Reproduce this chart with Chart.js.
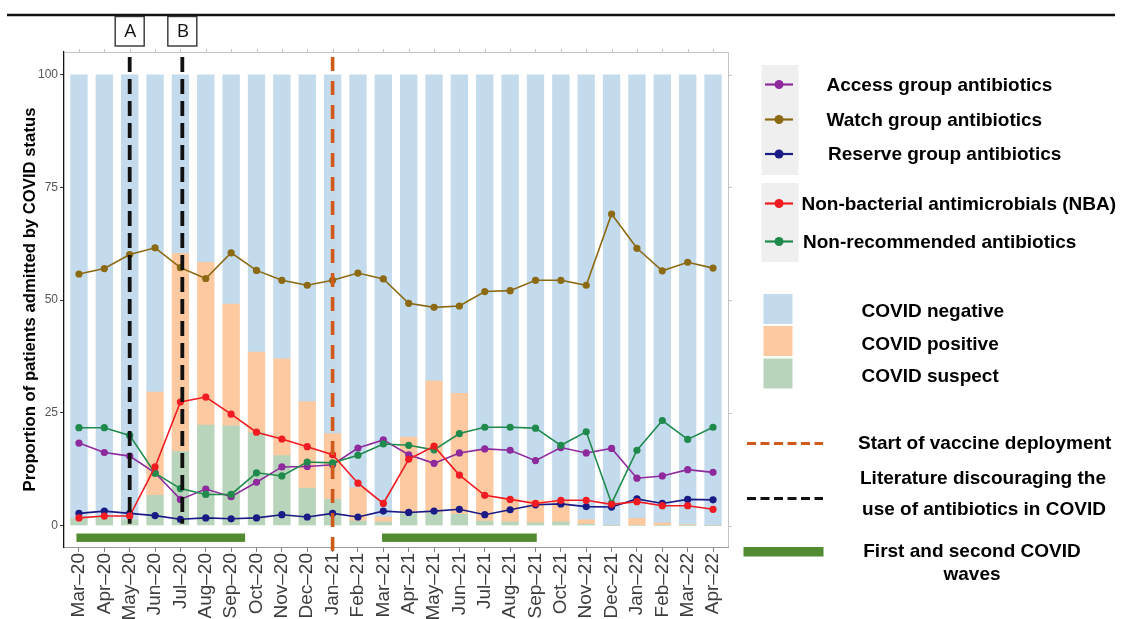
<!DOCTYPE html>
<html>
<head>
<meta charset="utf-8">
<script src="https://cdn.jsdelivr.net/npm/chart.js@4.4.1/dist/chart.umd.min.js"></script>
<style>
  html, body { margin: 0; padding: 0; background: #fff; overflow: hidden; }
  canvas { display: block; }
</style>
</head>
<body>
<canvas id="c" width="1121" height="619"></canvas>
<script>
// Months on the x axis
const months = ['Mar–20','Apr–20','May–20','Jun–20','Jul–20','Aug–20','Sep–20','Oct–20','Nov–20','Dec–20',
  'Jan–21','Feb–21','Mar–21','Apr–21','May–21','Jun–21','Jul–21','Aug–21','Sep–21','Oct–21','Nov–21','Dec–21',
  'Jan–22','Feb–22','Mar–22','Apr–22'];

// Share of admitted patients by COVID status (%), stacked to 100
const covidSuspect  = [1.5,1.8,1.2,6.7,16.4,22.3,22.1,20.6,15.5,8.3,5.8,1.0,0.8,2.7,2.8,2.5,1.0,0.8,0.6,0.8,0.3,0,0,0,0,0];
const covidPositive = [0,0,0,22.9,44.0,36.1,27.0,17.9,21.5,19.2,14.6,7.4,1.1,16.9,29.3,26.8,15.7,5.2,5.0,4.8,1.0,0,1.6,0.6,0.2,0];
const covidNegative = [98.5,98.2,98.8,70.4,39.6,41.6,50.9,61.5,63.0,72.5,79.6,91.6,98.1,80.4,67.9,70.7,83.3,94.0,94.4,94.4,98.7,100,98.4,99.4,99.8,100];

// Antimicrobial prescribing (%)
const accessGroup  = [18.3,16.2,15.4,11.7,5.8,8.1,6.4,9.6,13.0,13.1,13.5,17.2,19.0,15.7,13.8,16.1,17.0,16.7,14.4,17.3,16.1,17.1,10.5,11.0,12.4,11.8];
const watchGroup   = [55.8,57.0,60.1,61.6,57.2,54.8,60.5,56.6,54.4,53.3,54.4,56.0,54.7,49.3,48.4,48.7,51.9,52.1,54.4,54.4,53.3,69.1,61.5,56.5,58.4,57.1];
const reserveGroup = [2.7,3.2,2.7,2.2,1.4,1.7,1.5,1.7,2.4,1.9,2.7,1.9,3.2,2.9,3.2,3.6,2.4,3.5,4.6,4.8,4.2,4.1,5.9,4.9,5.8,5.7];
const nonBacterial = [1.7,2.1,2.1,13.0,27.4,28.5,24.7,20.7,19.2,17.5,15.7,9.4,4.9,14.7,17.6,11.2,6.7,5.8,4.9,5.6,5.6,4.7,5.3,4.4,4.4,3.6];
const nonRecommended = [21.7,21.7,20.0,11.6,8.2,6.9,6.9,11.7,11.0,14.1,13.9,15.6,18.1,17.8,16.8,20.4,21.8,21.8,21.6,17.8,20.8,4.9,16.7,23.3,19.1,21.8];

// y-axis tick labels
const yTicks = [0, 25, 50, 75, 100];

// Events (positions in month units along the x axis)
const literatureEvents = [{ label: 'A', at: 2 }, { label: 'B', at: 4.075 }];
const vaccineStart = 10;
const covidWaves = [[-0.1, 6.55], [11.95, 18.05]];
const waveLevel = -2.7;

const COL = {
  negative: '#c3dbec', positive: '#fcc9a1', suspect: '#b8d5bb',
  access: '#8e2a9c', watch: '#8c6a14', reserve: '#1b1b86', nba: '#f01c22', nonrec: '#1f8a4c',
  wave: '#528b31', vaccine: '#cf5a1c', literature: '#111111'
};
const FONT = '"Liberation Sans", Arial, Helvetica, sans-serif';

const pts = arr => arr.map((v, i) => ({ x: i, y: v }));

function barSet(label, arr, color, order) {
  return { type: 'bar', label, data: pts(arr), backgroundColor: color, stack: 'covid',
    barThickness: 16.7, borderWidth: 0, order };
}
function lineSet(label, arr, color, order) {
  return { type: 'line', label, data: pts(arr), borderColor: color, backgroundColor: color,
    borderWidth: 1.6, pointRadius: 3.6, pointBorderWidth: 0, pointBackgroundColor: color,
    tension: 0, order };
}

const decor = {
  id: 'decor',
  afterDatasetsDraw(chart) {
    const { ctx, chartArea: a, scales: { x, y } } = chart;
    ctx.save();
    // COVID waves
    ctx.fillStyle = COL.wave;
    covidWaves.forEach(([s, e]) => {
      const x0 = x.getPixelForValue(s), x1 = x.getPixelForValue(e);
      const yc = y.getPixelForValue(waveLevel);
      ctx.fillRect(x0, yc - 4.2, x1 - x0, 8.4);
    });
    // Literature lines
    ctx.lineWidth = 3.8;
    ctx.strokeStyle = COL.literature;
    ctx.setLineDash([15, 7]);
    literatureEvents.forEach(ev => {
      const px = x.getPixelForValue(ev.at);
      ctx.beginPath();
      ctx.moveTo(px, a.top + 5);
      ctx.lineTo(px, y.getPixelForValue(0.4));
      ctx.stroke();
    });
    // Vaccine deployment
    ctx.strokeStyle = COL.vaccine;
    ctx.lineWidth = 3.6;
    ctx.setLineDash([14, 10]);
    const vx = x.getPixelForValue(vaccineStart);
    ctx.beginPath();
    ctx.moveTo(vx, a.top + 5);
    ctx.lineTo(vx, a.bottom + 10);
    ctx.stroke();
    ctx.restore();
  },
  afterDraw(chart) {
    const { ctx, chartArea: a, scales: { x, y } } = chart;
    ctx.save();
    // panel frame (top & right) with outward ticks
    ctx.strokeStyle = '#c4c4c4';
    ctx.lineWidth = 1;
    ctx.beginPath();
    ctx.moveTo(a.left, a.top + 0.5); ctx.lineTo(a.right + 0.5, a.top + 0.5);
    ctx.lineTo(a.right + 0.5, a.bottom);
    months.forEach((m, i) => {
      const px = Math.round(x.getPixelForValue(i)) + 0.5;
      ctx.moveTo(px, a.top); ctx.lineTo(px, a.top - 3);
    });
    yTicks.forEach(v => {
      const py = Math.round(y.getPixelForValue(v)) + 0.5;
      ctx.moveTo(a.right, py); ctx.lineTo(a.right + 4, py);
    });
    ctx.stroke();

    // top rule
    ctx.strokeStyle = '#111';
    ctx.lineWidth = 2.4;
    ctx.beginPath();
    ctx.moveTo(7, 15); ctx.lineTo(1115, 15);
    ctx.stroke();

    // A / B boxes
    ctx.lineWidth = 1.4;
    ctx.strokeStyle = '#333';
    ctx.font = '19px "Open Sans", "Noto Sans", sans-serif';
    ctx.textAlign = 'center';
    ctx.textBaseline = 'middle';
    literatureEvents.forEach(ev => {
      const px = x.getPixelForValue(ev.at);
      ctx.fillStyle = '#fff';
      ctx.fillRect(px - 14.5, 16.5, 29, 29.5);
      ctx.strokeRect(px - 14.5, 16.5, 29, 29.5);
      ctx.fillStyle = '#111';
      ctx.fillText(ev.label, px + 0.5, 32);
    });

    // Legend
    ctx.textAlign = 'left';
    ctx.textBaseline = 'middle';
    ctx.fillStyle = '#efefef';
    ctx.fillRect(761.5, 65, 37, 110);
    ctx.fillRect(761.5, 183, 37, 79);

    const lineKeys = [
      { c: COL.access, y: 84.5, tx: 826.5, t: 'Access group antibiotics' },
      { c: COL.watch, y: 119.5, tx: 826.5, t: 'Watch group antibiotics' },
      { c: COL.reserve, y: 154, tx: 828, t: 'Reserve group antibiotics' },
      { c: COL.nba, y: 203.5, tx: 801.5, t: 'Non-bacterial antimicrobials (NBA)' },
      { c: COL.nonrec, y: 241.5, tx: 803, t: 'Non-recommended antibiotics' }
    ];
    ctx.font = 'bold 19px ' + FONT;
    lineKeys.forEach(k => {
      ctx.strokeStyle = k.c; ctx.fillStyle = k.c; ctx.lineWidth = 2.2;
      ctx.beginPath(); ctx.moveTo(765, k.y); ctx.lineTo(793, k.y); ctx.stroke();
      ctx.beginPath(); ctx.arc(779, k.y, 4.5, 0, Math.PI * 2); ctx.fill();
      ctx.fillStyle = '#000';
      ctx.fillText(k.t, k.tx, k.y + 1);
    });

    const boxKeys = [
      { c: COL.negative, y0: 294, y1: 324, ty: 311.5, t: 'COVID negative' },
      { c: COL.positive, y0: 326, y1: 356, ty: 345, t: 'COVID positive' },
      { c: COL.suspect, y0: 358.5, y1: 388.5, ty: 376.5, t: 'COVID suspect' }
    ];
    boxKeys.forEach(k => {
      ctx.fillStyle = k.c;
      ctx.fillRect(763.5, k.y0, 29, k.y1 - k.y0);
      ctx.fillStyle = '#000';
      ctx.fillText(k.t, 861.5, k.ty);
    });

    // event keys
    ctx.lineWidth = 3;
    ctx.strokeStyle = COL.vaccine;
    ctx.setLineDash([9, 4.5]);
    ctx.beginPath(); ctx.moveTo(747, 443.5); ctx.lineTo(823, 443.5); ctx.stroke();
    ctx.strokeStyle = '#111';
    ctx.beginPath(); ctx.moveTo(747, 498.5); ctx.lineTo(823, 498.5); ctx.stroke();
    ctx.setLineDash([]);
    ctx.fillStyle = COL.wave;
    ctx.fillRect(743.5, 547, 80, 9.5);

    ctx.fillStyle = '#000';
    ctx.fillText('Start of vaccine deployment', 858, 443.5);
    ctx.textAlign = 'center';
    ctx.fillText('Literature discouraging the', 983, 478.5);
    ctx.fillText('use of antibiotics in COVID', 984, 510);
    ctx.fillText('First and second COVID', 972, 551.5);
    ctx.fillText('waves', 972, 575);
    ctx.restore();
  }
};

new Chart(document.getElementById('c'), {
  type: 'bar',
  data: {
    datasets: [
      lineSet('Non-bacterial antimicrobials (NBA)', nonBacterial, COL.nba, 1),
      lineSet('Reserve group antibiotics', reserveGroup, COL.reserve, 2),
      lineSet('Non-recommended antibiotics', nonRecommended, COL.nonrec, 3),
      lineSet('Access group antibiotics', accessGroup, COL.access, 4),
      lineSet('Watch group antibiotics', watchGroup, COL.watch, 5),
      barSet('COVID suspect', covidSuspect, COL.suspect, 10),
      barSet('COVID positive', covidPositive, COL.positive, 11),
      barSet('COVID negative', covidNegative, COL.negative, 12)
    ]
  },
  options: {
    responsive: false,
    devicePixelRatio: 1,
    animation: false,
    layout: { padding: { left: 0, right: 393, top: 52, bottom: 0 } },
    plugins: { legend: { display: false }, tooltip: { enabled: false } },
    scales: {
      x: {
        type: 'linear',
        min: -0.59, max: 25.59,
        offset: false,
        grid: { offset: false, drawOnChartArea: false, drawTicks: true, tickLength: 5, color: '#808080' },
        border: { display: true, color: '#9a9a9a', width: 1 },
        afterBuildTicks: s => { s.ticks = months.map((m, i) => ({ value: i })); },
        afterFit: s => { s.height = 72; s.paddingLeft = 0; s.paddingRight = 0; },
        ticks: {
          autoSkip: false, minRotation: 90, maxRotation: 90, padding: 1,
          color: '#3d3d3d', font: { family: FONT, size: 19 },
          callback: v => months[v]
        }
      },
      y: {
        min: -4.76, max: 105.04,
        grid: { drawOnChartArea: false, drawTicks: true, tickLength: 4, color: '#333' },
        border: { display: true, color: '#111', width: 1.3 },
        afterBuildTicks: s => { s.ticks = yTicks.map(v => ({ value: v })); },
        afterFit: s => { s.width = 64; s.paddingTop = 0; s.paddingBottom = 0; },
        ticks: { padding: 2, color: '#555', font: { family: FONT, size: 12 } },
        title: {
          display: true,
          text: 'Proportion of patients admitted by COVID status',
          color: '#000',
          font: { family: FONT, size: 16.7, weight: 'bold' },
          padding: { top: 20, bottom: 0 }
        }
      }
    }
  },
  plugins: [decor]
});
</script>
</body>
</html>
